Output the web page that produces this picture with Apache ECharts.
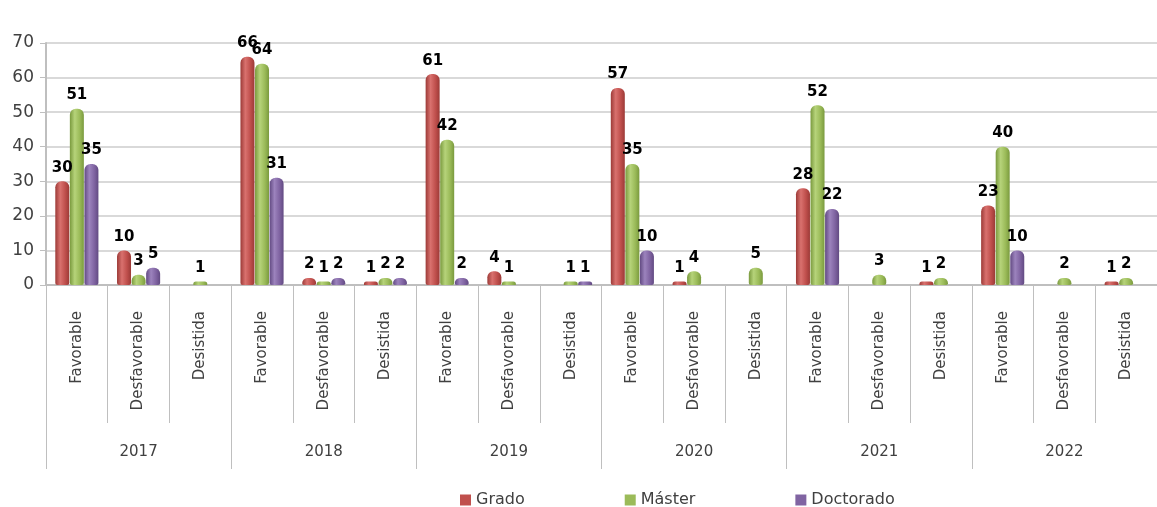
<!DOCTYPE html>
<html>
<head>
<meta charset="utf-8">
<script src="https://cdn.jsdelivr.net/npm/echarts@6/dist/echarts.min.js"></script>
<style>
  html, body { margin: 0; padding: 0; background: #fff; }
  #main { width: 1157px; height: 507px; }
</style>
</head>
<body>
<div id="main"></div>
<script>
// datos
const years = ['2017', '2018', '2019', '2020', '2021', '2022'];
const outcomes = ['Favorable', 'Desfavorable', 'Desistida'];
const categories = [];
years.forEach(() => outcomes.forEach(o => categories.push(o)));

const grado = [30, 10, null, 66, 2, 1, 61, 4, null, 57, 1, null, 28, null, 1, 23, null, 1];
const master = [51, 3, 1, 64, 1, 2, 42, 1, 1, 35, 4, 5, 52, 3, 2, 40, 2, 2];
const doctorado = [35, 5, null, 31, 2, 2, 2, null, 1, 10, null, null, 22, null, null, 10, null, null];

const font = 'DejaVu Sans';
const grey = '#bfbfbf';
const colors = ['#c0504d', '#9bbb59', '#8064a2'];

function cyl(dark, mid, light) {
  return new echarts.graphic.LinearGradient(0, 0, 1, 0, [
    { offset: 0, color: dark },
    { offset: 0.35, color: light },
    { offset: 0.7, color: mid },
    { offset: 1, color: dark }
  ]);
}

function barSeries(name, data, fill) {
  return {
    name: name,
    type: 'bar',
    data: data,
    barWidth: 14,
    barGap: '4%',
    itemStyle: { color: fill, borderRadius: [6, 6, 2, 2] },
    label: {
      show: true,
      position: 'top',
      distance: 6,
      color: '#000',
      fontFamily: font,
      fontWeight: 'bold',
      fontSize: 15
    }
  };
}

let chart = echarts.init(document.getElementById('main'));
let option = {
  animation: false,
  color: colors,
  grid: { left: 46, right: -7, top: 43, bottom: 222, containLabel: false },
  legend: {
    left: 455,
    top: 487,
    itemWidth: 11,
    itemHeight: 11,
    itemGap: 100,
    icon: 'rect',
    textStyle: { fontFamily: font, fontSize: 16, color: '#404040' },
    data: [
      { name: 'Grado', itemStyle: { color: colors[0] } },
      { name: 'Máster', itemStyle: { color: colors[1] } },
      { name: 'Doctorado', itemStyle: { color: colors[2] } }
    ]
  },
  xAxis: [
    {
      type: 'category',
      data: categories,
      position: 'bottom',
      axisLine: { show: true, lineStyle: { color: grey, width: 2 } },
      axisTick: { show: true, length: 138, interval: 0, lineStyle: { color: grey } },
      axisLabel: {
        rotate: 90,
        interval: 0,
        margin: 26,
        fontFamily: font,
        fontSize: 15,
        color: '#404040'
      }
    },
    {
      type: 'category',
      data: years,
      position: 'bottom',
      axisLine: { show: false },
      axisTick: { show: true, length: 184, interval: 0, lineStyle: { color: grey } },
      axisLabel: {
        margin: 160,
        fontFamily: font,
        fontSize: 15,
        color: '#404040'
      }
    }
  ],
  yAxis: {
    type: 'value',
    min: 0,
    max: 70,
    interval: 10,
    axisLine: { show: true, lineStyle: { color: grey, width: 2 } },
    axisTick: { show: true, length: 6, lineStyle: { color: grey } },
    axisLabel: { fontFamily: font, fontSize: 17, color: '#404040', margin: 12 },
    splitLine: { lineStyle: { color: '#d9d9d9', width: 2 } }
  },
  series: [
    barSeries('Grado', grado, cyl('#9c3a37', '#c0504d', '#d9716e')),
    barSeries('Máster', master, cyl('#7a9a3e', '#9bbb59', '#b6d37a')),
    barSeries('Doctorado', doctorado, cyl('#624a82', '#8064a2', '#9c83bd'))
  ]
};
chart.setOption(option);
</script>
</body>
</html>
